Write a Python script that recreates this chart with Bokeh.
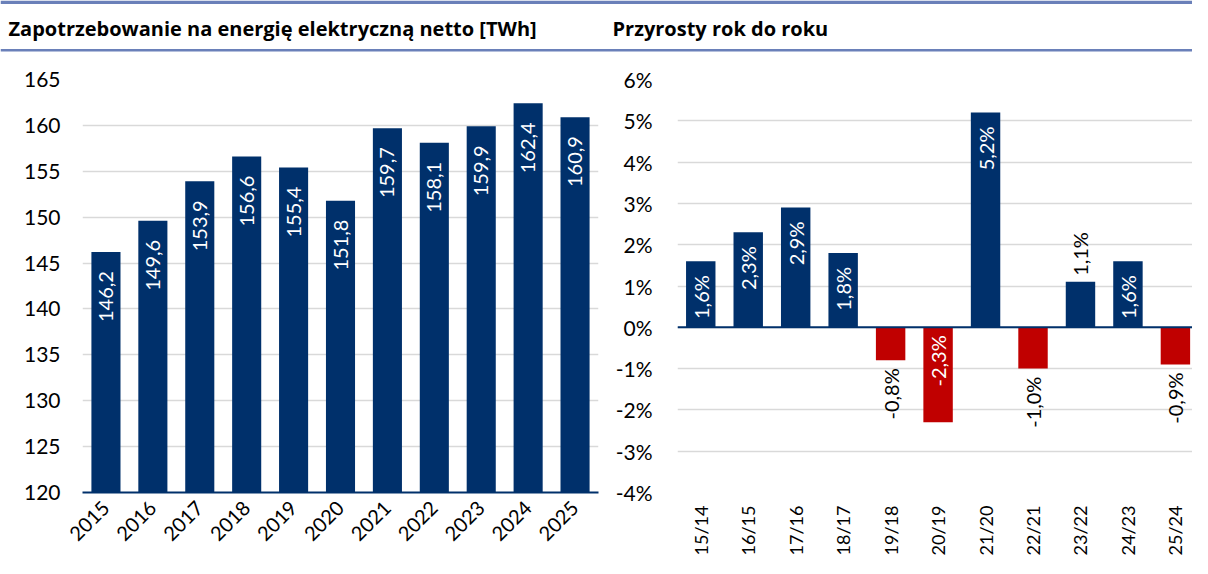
import math
from bokeh.plotting import figure
from bokeh.layouts import column, row
from bokeh.models import (ColumnDataSource, Range1d, FactorRange, FixedTicker, Span)
from bokeh.core.properties import value
from bokeh.embed import file_html
from bokeh.resources import INLINE

# ---------------- data ----------------
years = ["2015", "2016", "2017", "2018", "2019", "2020", "2021", "2022", "2023", "2024", "2025"]
demand_twh = [146.2, 149.6, 153.9, 156.6, 155.4, 151.8, 159.7, 158.1, 159.9, 162.4, 160.9]
periods = ["15/14", "16/15", "17/16", "18/17", "19/18", "20/19", "21/20", "22/21", "23/22", "24/23", "25/24"]
growth_pct = [1.6, 2.3, 2.9, 1.8, -0.8, -2.3, 5.2, -1.0, 1.1, 1.6, -0.9]
left_ticks = [120, 125, 130, 135, 140, 145, 150, 155, 160, 165]
right_ticks = [-4, -3, -2, -1, 0, 1, 2, 3, 4, 5, 6]
title_left = "Zapotrzebowanie na energię elektryczną netto [TWh]"
title_right = "Przyrosty rok do roku"

# ---------------- style ----------------
FONT = "Lato"
TFONT = "Open Sans"
NAVY = "#00306B"
RED = "#C00000"
GRID = "#D9D9D9"
RULE = "#6A80B9"
TXT = "#000000"


def fmt(v, suffix=""):
    return f"{v:.1f}".replace(".", ",") + suffix


# ---------------- header ----------------
W = 1192
HH = 54
header = figure(width=W, height=HH, x_range=Range1d(0, W), y_range=Range1d(HH, 0),
                toolbar_location=None, output_backend="svg", min_border=0)
header.axis.visible = False
header.grid.visible = False
header.outline_line_color = None
header.quad(left=[0], right=[W], top=[0], bottom=[3.5], color=RULE, line_color=None)
header.quad(left=[0], right=[W], top=[48.5], bottom=[51], color=RULE, line_color=None)
header.text(x=[8, 612], y=[28, 28], text=[title_left, title_right],
            text_font=value(TFONT), text_font_style="bold", text_font_size="20px",
            text_color=TXT, text_baseline="middle", text_align="left")

CH = 558 - HH
BB = 63


def style_common(p):
    p.toolbar_location = None
    p.outline_line_color = None
    p.xgrid.grid_line_color = None
    p.ygrid.grid_line_color = GRID
    p.ygrid.grid_line_width = 1.5
    for ax in (p.xaxis, p.yaxis):
        ax.major_tick_line_color = None
        ax.minor_tick_line_color = None
        ax.major_tick_out = 0
        ax.major_tick_in = 0
        ax.minor_tick_out = 0
        ax.minor_tick_in = 0
        ax.major_label_text_font = FONT
        ax.major_label_text_font_size = "21px"
        ax.major_label_text_color = TXT
    p.yaxis.axis_line_color = None


# ---------------- left chart ----------------
lsrc = ColumnDataSource(dict(x=years, top=demand_twh, lab=[fmt(v) for v in demand_twh]))
left = figure(width=600, height=CH, x_range=FactorRange(*years, range_padding=0),
              y_range=Range1d(120, 165), toolbar_location=None, output_backend="svg",
              min_border_left=82, min_border_right=2, min_border_top=23, min_border_bottom=BB)
style_common(left)
left.vbar(x="x", top="top", bottom=120, width=0.62, source=lsrc, color=NAVY, line_color=None)
left.text(x="x", y="top", text="lab", source=lsrc, angle=math.pi / 2, text_align="right",
          text_baseline="middle", y_offset=19, text_color="white",
          text_font=value(FONT), text_font_size="20px")
left.yaxis.ticker = FixedTicker(ticks=left_ticks)
left.yaxis.major_label_standoff = 22
left.xaxis.axis_line_color = NAVY
left.xaxis.axis_line_width = 2
left.xaxis.major_label_orientation = math.pi / 4
left.xaxis.major_label_standoff = 12
left.xaxis.major_label_text_font_size = "20px"

# ---------------- right chart ----------------
xs = list(range(len(periods)))
ly, la, lc, lo = [], [], [], []
for v in growth_pct:
    if v >= 1.5:
        ly.append(v); la.append("right"); lc.append("white"); lo.append(14)
    elif v > 0:
        ly.append(v); la.append("left"); lc.append(TXT); lo.append(-6)
    elif v <= -2:
        ly.append(0); la.append("right"); lc.append("white"); lo.append(8)
    else:
        ly.append(v); la.append("right"); lc.append(TXT); lo.append(8)
rsrc = ColumnDataSource(dict(x=xs, top=growth_pct,
                             color=[NAVY if v >= 0 else RED for v in growth_pct],
                             ly=ly, la=la, lc=lc, lo=lo,
                             lab=[fmt(v, "%") for v in growth_pct]))
right = figure(width=592, height=CH, x_range=Range1d(-0.49, 10.36), y_range=Range1d(-4, 6),
               toolbar_location=None, output_backend="svg",
               min_border_left=77, min_border_right=0, min_border_top=25, min_border_bottom=BB)
style_common(right)
right.vbar(x="x", top="top", bottom=0, width=0.62, source=rsrc, color="color", line_color=None)
right.add_layout(Span(location=0, dimension="width", line_color=NAVY, line_width=2))
right.text(x="x", y="ly", text="lab", source=rsrc, angle=math.pi / 2, text_align="la",
           text_baseline="middle", y_offset="lo", text_color="lc",
           text_font=value(FONT), text_font_size="20px")
right.yaxis.ticker = FixedTicker(ticks=right_ticks)
right.yaxis.major_label_overrides = {t: f"{t}%" for t in right_ticks}
right.yaxis.major_label_standoff = 25
right.xaxis.ticker = FixedTicker(ticks=xs)
right.xaxis.major_label_overrides = {i: s for i, s in enumerate(periods)}
right.xaxis.axis_line_color = None
right.xaxis.major_label_orientation = math.pi / 2
right.xaxis.major_label_standoff = 13
right.xaxis.major_label_text_font_size = "18px"

layout = column(header, row(left, right, spacing=0), spacing=0)
open("out.html", "w").write(file_html(layout, INLINE))
